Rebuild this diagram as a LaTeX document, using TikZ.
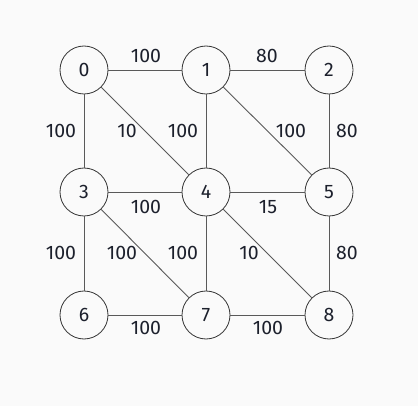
\documentclass[tikz,border=0pt]{standalone}
\usepackage{fontspec}
\setmainfont{Fira Sans}
\definecolor{txt}{RGB}{28,32,44}
\begin{document}
\begin{tikzpicture}[x=1pt,y=-1pt,
  vtx/.style={circle,draw=black!80,line width=0.8pt,minimum size=48pt,inner sep=0pt,font=\fontsize{19.5}{22}\selectfont,text=txt},
  edge/.style={draw=black!65,line width=0.9pt},
  lbl/.style={font=\fontsize{19.5}{22}\selectfont,text=txt}]
\fill[black!2] (0,0) rectangle (418,406);
\useasboundingbox (0,0) rectangle (418,406);
\node[vtx] (n0) at (84,70) {0};
\node[vtx] (n1) at (206,70) {1};
\node[vtx] (n2) at (329,70) {2};
\node[vtx] (n3) at (84,192) {3};
\node[vtx] (n4) at (206,192) {4};
\node[vtx] (n5) at (329,192) {5};
\node[vtx] (n6) at (84,315) {6};
\node[vtx] (n7) at (206,315) {7};
\node[vtx] (n8) at (329,315) {8};
\draw[edge] (n0) -- (n1);
\draw[edge] (n1) -- (n2);
\draw[edge] (n0) -- (n3);
\draw[edge] (n0) -- (n4);
\draw[edge] (n1) -- (n4);
\draw[edge] (n1) -- (n5);
\draw[edge] (n2) -- (n5);
\draw[edge] (n3) -- (n4);
\draw[edge] (n4) -- (n5);
\draw[edge] (n3) -- (n6);
\draw[edge] (n3) -- (n7);
\draw[edge] (n4) -- (n7);
\draw[edge] (n4) -- (n8);
\draw[edge] (n5) -- (n8);
\draw[edge] (n6) -- (n7);
\draw[edge] (n7) -- (n8);
\node[lbl] (l01) at (146,56) {100};
\node[lbl] (l12) at (267,56) {80};
\node[lbl] (l03) at (61,131) {100};
\node[lbl] (l04) at (127,131) {10};
\node[lbl] (l14) at (183,131) {100};
\node[lbl] (l15) at (291,131) {100};
\node[lbl] (l25) at (347,131) {80};
\node[lbl] (l34) at (146,207) {100};
\node[lbl] (l45) at (268,207) {15};
\node[lbl] (l36) at (61,253) {100};
\node[lbl] (l37) at (122,253) {100};
\node[lbl] (l47) at (183,253) {100};
\node[lbl] (l48) at (249,253) {10};
\node[lbl] (l58) at (347,253) {80};
\node[lbl] (l67) at (146,328) {100};
\node[lbl] (l78) at (268,328) {100};
\end{tikzpicture}
\end{document}
